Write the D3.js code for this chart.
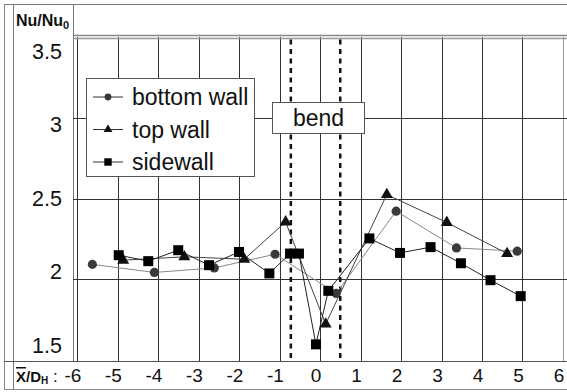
<!DOCTYPE html>
<html>
<head>
<meta charset="utf-8">
<script src="https://cdn.jsdelivr.net/npm/d3@7"></script>
<style>
  html, body { margin: 0; padding: 0; background: #fff; }
  svg { display: block; font-family: "Liberation Sans", Arial, sans-serif; }
</style>
</head>
<body>
<svg id="chart" width="567" height="392"></svg>
<script>
// Axial position (X/D_H) and normalised Nusselt number per wall
const xTicks = [-6, -5, -4, -3, -2, -1, 0, 1, 2, 3, 4, 5, 6];
const yTicks = [1.5, 2, 2.5, 3, 3.5];
const yGrid = [2, 2.5, 3];
const bendEdges = [-0.72, 0.5];

const bottomX = [-5.62, -4.09, -2.61, -1.11, 0.40, 1.88, 3.37, 4.87];
const bottomY = [2.093, 2.043, 2.071, 2.156, 1.913, 2.423, 2.195, 2.175];

const topX = [-4.86, -3.35, -1.87, -0.85, 0.14, 1.65, 3.13, 4.62];
const topY = [2.119, 2.14, 2.125, 2.356, 1.723, 2.526, 2.353, 2.16];

const sideX = [-4.97, -4.24, -3.50, -2.74, -2.00, -1.25, -0.74, -0.52, -0.10, 0.205, 1.22, 1.975, 2.73, 3.48, 4.21, 4.955];
const sideY = [2.15, 2.113, 2.181, 2.088, 2.17, 2.037, 2.16, 2.16, 1.597, 1.929, 2.254, 2.164, 2.20, 2.10, 1.995, 1.896];

const seriesNames = ["bottom wall", "top wall", "sidewall"];

const svg = d3.select("#chart");
const W = 567;

const x = d3.scaleLinear().domain([-6, 6]).range([77, 563]);
const y = d3.scaleLinear().domain([1.5, 3.5]).range([360, 37.5]);
// value labels sit in their own column cells, spaced slightly tighter than the grid
const yLab = d3.scaleLinear().domain([1.5, 3.5]).range([353, 58.5]);

// ---- table frame ----
const frame = svg.append("g").attr("fill", "none");
frame.append("line").attr("x1", 4).attr("x2", W).attr("y1", 4.5).attr("y2", 4.5).attr("stroke", "#777");
frame.append("line").attr("x1", 4.5).attr("x2", 4.5).attr("y1", 4).attr("y2", 389).attr("stroke", "#888");
frame.append("line").attr("x1", 13.5).attr("x2", 13.5).attr("y1", 4).attr("y2", 389).attr("stroke", "#777");
frame.append("line").attr("x1", 73.5).attr("x2", 73.5).attr("y1", 4).attr("y2", 361).attr("stroke", "#777");
frame.append("line").attr("x1", 4).attr("x2", W).attr("y1", 389.5).attr("y2", 389.5).attr("stroke", "#888");
frame.append("line").attr("x1", 4).attr("x2", W).attr("y1", 361.5).attr("y2", 361.5).attr("stroke", "#555");
frame.append("line").attr("x1", 73).attr("x2", W).attr("y1", 35.5).attr("y2", 35.5).attr("stroke", "#888").attr("stroke-width", 1.5);

// ---- grid ----
const grid = svg.append("g");
grid.selectAll("line.v").data(xTicks).join("line")
  .attr("class", "v")
  .attr("x1", d => Math.round(x(d)) + 0.5).attr("x2", d => Math.round(x(d)) + 0.5)
  .attr("y1", y(3.5) - 0.5).attr("y2", 361)
  .attr("stroke", d => d === 6 ? "#999" : "#333").attr("stroke-width", 1);
grid.append("line")
  .attr("x1", 73).attr("x2", W).attr("y1", Math.round(y(3.5)) + 0.5).attr("y2", Math.round(y(3.5)) + 0.5)
  .attr("stroke", "#999").attr("stroke-width", 1.5);
grid.selectAll("line.h").data(yGrid).join("line")
  .attr("class", "h")
  .attr("x1", 73).attr("x2", W)
  .attr("y1", d => Math.round(y(d)) + 0.5).attr("y2", d => Math.round(y(d)) + 0.5)
  .attr("stroke", "#333").attr("stroke-width", 1);

// bend limits
grid.selectAll("line.bend").data(bendEdges).join("line")
  .attr("class", "bend")
  .attr("x1", d => x(d)).attr("x2", d => x(d))
  .attr("y1", y(3.5) + 2).attr("y2", 361)
  .attr("stroke", "#111").attr("stroke-width", 2.5)
  .attr("stroke-dasharray", "5,4.5");

// ---- axis labels ----
svg.selectAll("text.ylab").data(yTicks).join("text")
  .attr("class", "ylab")
  .attr("x", 62).attr("y", d => yLab(d))
  .attr("text-anchor", "end")
  .attr("font-size", 21.5).attr("fill", "#111")
  .text(d => d);

svg.selectAll("text.xlab").data(xTicks).join("text")
  .attr("class", "xlab")
  .attr("x", d => x(d) - 4).attr("y", 382)
  .attr("text-anchor", "middle")
  .attr("font-size", 19).attr("fill", "#111")
  .text(d => d);

const yTitle = svg.append("text").attr("x", 16).attr("y", 26)
  .attr("font-size", 16).attr("font-weight", "bold").attr("fill", "#111");
yTitle.append("tspan").text("Nu/Nu");
yTitle.append("tspan").attr("font-size", 11).attr("dy", 3).text("0");

const xTitle = svg.append("text").attr("x", 16).attr("y", 382)
  .attr("font-size", 15).attr("font-weight", "bold").attr("fill", "#111");
xTitle.append("tspan").style("text-decoration", "overline").text("X");
xTitle.append("tspan").text("/D");
xTitle.append("tspan").attr("font-size", 10).attr("dy", 2).text("H");
xTitle.append("tspan").attr("dy", -2).attr("font-weight", "normal").attr("font-size", 17).text(" :");

// ---- series ----
const series = [
  { name: seriesNames[0], xs: bottomX, ys: bottomY, sym: d3.symbolCircle, size: 66, fill: "#3a3a3a", line: "#888" },
  { name: seriesNames[1], xs: topX, ys: topY, sym: d3.symbolTriangle, size: 62, fill: "#111", line: "#444" },
  { name: seriesNames[2], xs: sideX, ys: sideY, sym: d3.symbolSquare, size: 100, fill: "#000", line: "#222" }
];

const lineGen = d3.line().x(d => x(d[0])).y(d => y(d[1]));

const plot = svg.append("g");
series.forEach(s => {
  const pts = s.xs.map((v, i) => [v, s.ys[i]]);
  plot.append("path").datum(pts)
    .attr("d", lineGen)
    .attr("fill", "none").attr("stroke", s.line).attr("stroke-width", 1);
});
series.forEach(s => {
  const pts = s.xs.map((v, i) => [v, s.ys[i]]);
  plot.selectAll(null).data(pts).join("path")
    .attr("transform", d => `translate(${x(d[0])},${y(d[1])})`)
    .attr("d", d3.symbol().type(s.sym).size(s.size))
    .attr("fill", s.fill);
});

// ---- legend ----
const legend = svg.append("g");
legend.append("rect").attr("x", 86.5).attr("y", 78.5).attr("width", 168).attr("height", 98)
  .attr("fill", "#fff").attr("stroke", "#555");
const rows = legend.selectAll("g.row").data(series).join("g")
  .attr("class", "row")
  .attr("transform", (d, i) => `translate(0,${105 + i * 32.5})`);
rows.append("line").attr("x1", 93).attr("x2", 123).attr("y1", -8).attr("y2", -8)
  .attr("stroke", "#333");
rows.append("path")
  .attr("transform", "translate(108,-8)")
  .attr("d", d => d3.symbol().type(d.sym).size(d.size * 0.55)())
  .attr("fill", d => d.fill);
rows.append("text").attr("x", 132).attr("y", 0)
  .attr("font-size", 23).attr("fill", "#111")
  .text(d => d.name);

// bend marker box
const bend = svg.append("g");
bend.append("rect").attr("x", 272.5).attr("y", 102.5).attr("width", 92).attr("height", 31)
  .attr("fill", "#fff").attr("stroke", "#555");
bend.append("text").attr("x", (x(bendEdges[0]) + x(bendEdges[1])) / 2 + 3).attr("y", 125.5)
  .attr("text-anchor", "middle").attr("font-size", 23).attr("fill", "#111")
  .text("bend");
</script>
</body>
</html>
